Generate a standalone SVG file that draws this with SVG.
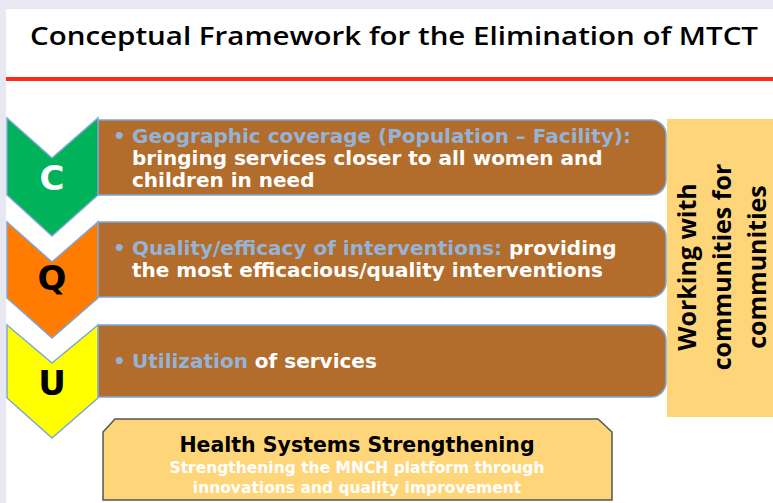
<svg xmlns="http://www.w3.org/2000/svg" width="773" height="503" viewBox="0 0 773 503">
<style>
.bodytxt{font-family:"DejaVu Sans",Verdana,sans-serif;font-weight:bold;font-size:20px;fill:#ffffff}
.hl{fill:#95b3d7}
.chev{stroke:#7ea6d8;stroke-width:1.5}
.bar{fill:#b26c2b;stroke:#7ea6d8;stroke-width:1.5}
.letter{font-family:"DejaVu Sans",Verdana,sans-serif;font-weight:bold;font-size:34px;text-anchor:middle}
.vert{font-family:"Open Sans","Noto Sans",sans-serif;font-weight:bold;font-size:25px;fill:#000;text-anchor:middle}
</style>
<rect x="0" y="0" width="773" height="503" fill="#e8e8f3"/>
<rect x="6" y="9" width="767" height="494" fill="#ffffff"/>
<g id="title">
<text x="30" y="45" font-family="'Open Sans','Noto Sans',sans-serif" font-size="25" font-weight="600" fill="#000" textLength="728" lengthAdjust="spacingAndGlyphs">Conceptual Framework for the Elimination of MTCT</text>
<rect x="6" y="77" width="767" height="4" fill="#ff2a1a"/>
</g>
<g id="node-c">
<path class="bar" d="M98,120 H651 A15,15 0 0 1 666,135 V180 A15,15 0 0 1 651,195 H98 Z"/>
<path class="chev" fill="#00b35a" d="M7,118 L52,158 L98,118 L98,195 L52,236 L7,195 Z"/>
<text class="letter" x="52" y="190" fill="#ffffff">C</text>
<text class="bodytxt hl" x="113" y="143">•</text>
<text class="bodytxt" x="132" y="143"><tspan class="hl">Geographic coverage (Population – Facility):</tspan></text>
<text class="bodytxt" x="132" y="165">bringing services closer to all women and</text>
<text class="bodytxt" x="132" y="187">children in need</text>
</g>
<g id="node-q">
<path class="bar" d="M98,222 H651 A15,15 0 0 1 666,237 V282 A15,15 0 0 1 651,297 H98 Z"/>
<path class="chev" fill="#ff7c00" d="M7,222 L52,262 L98,222 L98,298 L52,338 L7,298 Z"/>
<text class="letter" x="52" y="290" fill="#000000">Q</text>
<text class="bodytxt hl" x="113" y="255">•</text>
<text class="bodytxt" x="132" y="255"><tspan class="hl">Quality/efficacy of interventions:</tspan> providing</text>
<text class="bodytxt" x="132" y="277">the most efficacious/quality interventions</text>
</g>
<g id="node-u">
<path class="bar" d="M98,325 H651 A15,15 0 0 1 666,340 V382 A15,15 0 0 1 651,397 H98 Z"/>
<path class="chev" fill="#ffff00" d="M7,325 L52,363 L98,325 L98,398 L52,438 L7,398 Z"/>
<text class="letter" x="52" y="395" fill="#000000">U</text>
<text class="bodytxt hl" x="113" y="368">•</text>
<text class="bodytxt" x="132" y="368"><tspan class="hl">Utilization</tspan> of services</text>
</g>
<g id="node-community">
<rect x="667" y="119" width="106" height="298" fill="#ffd57a"/>
<g transform="translate(0,267)">
<text class="vert" transform="translate(696,0) rotate(-90)" x="0" y="0">Working with</text>
<text class="vert" transform="translate(731,0) rotate(-90)" x="0" y="0">communities for</text>
<text class="vert" transform="translate(766,0) rotate(-90)" x="0" y="0">communities</text>
</g>
</g>
<g id="node-hss">
<path d="M103,432 L115,419 H598 L612,432 V500 H103 Z" fill="#ffd57a" stroke="#555555" stroke-width="1.5"/>
<text x="357" y="452" font-family="'DejaVu Sans',Verdana,sans-serif" font-weight="bold" font-size="20.5" fill="#000" text-anchor="middle">Health Systems Strengthening</text>
<text x="357" y="473" font-family="'DejaVu Sans',Verdana,sans-serif" font-weight="bold" font-size="15.5" fill="#ffffff" text-anchor="middle">Strengthening the MNCH platform through</text>
<text x="357" y="493" font-family="'DejaVu Sans',Verdana,sans-serif" font-weight="bold" font-size="15.5" fill="#ffffff" text-anchor="middle">innovations and quality improvement</text>
</g>
</svg>
